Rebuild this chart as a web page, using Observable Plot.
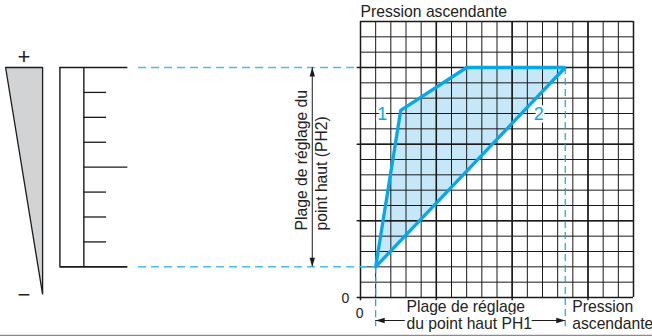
<!DOCTYPE html>
<html><head><meta charset="utf-8">
<script src="https://cdn.jsdelivr.net/npm/d3@7"></script>
<script src="https://cdn.jsdelivr.net/npm/@observablehq/plot@0.6"></script>
<style>
html,body{margin:0;padding:0;background:#fff;}
#chart svg{display:block;}
</style></head><body><div id="chart"></div>
<script>
// ---- Data (grid units: 1 = one grid cell) ----
const gridLines = [0,1,2,3,4,5,6,7,8,9,10,11,12,13,14,15,16,17,18];
const majorLines = [0, 5, 10, 15];
const zoneX = [1, 2.65, 7, 13.5, 1];
const zoneY = [2, 12.2, 15, 15, 2];
const curveLabels = ["1", "2"];
const curveLabelX = [1.43, 11.75];
const curveLabelY = [11.94, 11.94];
const ph1Range = [1, 13.5];      // x range of PH1
const ph2Range = [2, 15];        // y range of PH2
const ph1ArrowY = -1.5;
const ph2ArrowX = -3.18;
const dashStartX = -14.63;
const dashEndY = -1.9;
// left-hand wedge and scale
const wedgeX = [-23.4, -20.96, -20.96, -23.4];
const wedgeY = [15, 15, 0.2, 15];
const scaleBarX = [-19.82, -18.24];
const scaleTicks = [2, 3.625, 5.25, 6.875, 8.5, 10.125, 11.75, 13.375, 15];
const scaleEndTicks = [2, 15];
const scaleMidTick = [8.5];
const scaleLongEnd = -15.34;
const scaleShortEnd = -16.74;
// texts
const texts = [
  {x: 0, y: 18.6, t: "Pression ascendante"},
  {x: 3.03, y: -0.63, t: "Plage de réglage"},
  {x: 13.96, y: -0.64, t: "Pression"},
  {x: 13.96, y: -1.73, t: "ascendante"}
];
const haloTexts = [{x: 3.03, y: -1.70, t: "du point haut PH1"}];
const zeroLabels = [{x: -0.99, y: -0.05, t: "0"}, {x: -0.05, y: -1.06, t: "0"}];
const signLabels = [{x: -22.2, y: 15.7, t: "+"}, {x: -22.2, y: 0.15, t: "−"}];
const ph2Lines = [{x: -3.84, t: "Plage de réglage du"}, {x: -2.52, t: "point haut (PH2)"}];
const ph2TextY = 4.37;

const BLUE = "#05a9ea", FILL = "#c6e7f7", DASH = "#45bff0", INK = "#1a1a1a";
const FONT = 15.7;

const zone = zoneX.map((x, i) => ({x, y: zoneY[i]}));
const wedge = wedgeX.map((x, i) => ({x, y: wedgeY[i]}));
const arrowHead = {draw(ctx) { ctx.moveTo(0, 0); ctx.lineTo(-2.7, 9); ctx.lineTo(2.7, 9); ctx.closePath(); }};
const tips = [
  {x: ph2ArrowX, y: ph2Range[1], r: 0}, {x: ph2ArrowX, y: ph2Range[0], r: 180},
  {x: ph1Range[0], y: ph1ArrowY, r: 270}, {x: ph1Range[1], y: ph1ArrowY, r: 90}
];

const chart = Plot.plot({
  width: 652, height: 336,
  marginTop: 0, marginRight: 0, marginBottom: 0, marginLeft: 0,
  x: {domain: [0, 18], range: [360, 633], axis: null},
  y: {domain: [0, 18], range: [297, 21], axis: null},
  style: {fontFamily: "'Liberation Sans', Arial, Helvetica, sans-serif", background: "#fff", color: INK},
  marks: [
    Plot.ruleY([-2.48], {stroke: "#8a8a8a", strokeWidth: 1.5}),
    // zone fill
    Plot.line(zone, {x: "x", y: "y", fill: FILL, stroke: "none"}),
    // top dashed (under grid)
    Plot.ruleY([ph2Range[1]], {x1: dashStartX, x2: -0.2, stroke: DASH, strokeWidth: 1.5, strokeDasharray: "8,5"}),
    // grid
    Plot.ruleX(gridLines, {x: d => d, y1: 0, y2: 18, stroke: INK, strokeWidth: 1}),
    Plot.ruleY(gridLines, {y: d => d, x1: 0, x2: 18, stroke: INK, strokeWidth: 1}),
    Plot.ruleX(majorLines, {x: d => d, y1: -0.22, y2: 18, stroke: INK, strokeWidth: 1.5}),
    Plot.ruleY(majorLines, {y: d => d, x1: -0.22, x2: 18, stroke: INK, strokeWidth: 1.5}),
    Plot.ruleX([18], {y1: 0, y2: 18, stroke: INK, strokeWidth: 1.5}),
    Plot.ruleY([18], {x1: 0, x2: 18, stroke: INK, strokeWidth: 1.5}),
    // bottom dashed and vertical dashed
    Plot.ruleY([ph2Range[0]], {x1: dashStartX, x2: ph1Range[0], stroke: DASH, strokeWidth: 1.5, strokeDasharray: "8,5"}),
    Plot.ruleX([ph1Range[0]], {y1: ph2Range[0], y2: dashEndY, stroke: BLUE, strokeWidth: 1.2, strokeDasharray: "7,4"}),
    Plot.ruleX([ph1Range[1]], {y1: ph2Range[1], y2: dashEndY, stroke: BLUE, strokeWidth: 1.2, strokeDasharray: "7,4"}),
    // zone outline
    Plot.line(zone, {x: "x", y: "y", stroke: BLUE, strokeWidth: 3.3, strokeLinejoin: "miter"}),
    // curve labels
    Plot.text(curveLabels, {x: (d, i) => curveLabelX[i], y: (d, i) => curveLabelY[i], text: d => d,
      fill: BLUE, stroke: "white", strokeWidth: 5, paintOrder: "stroke", fontSize: 18, lineAnchor: "middle"}),
    // wedge
    Plot.line(wedge, {x: "x", y: "y", fill: "#d2d3d5", stroke: INK, strokeWidth: 1.3, strokeLinejoin: "miter"}),
    // scale bar
    Plot.ruleX(scaleBarX, {x: d => d, y1: ph2Range[0], y2: ph2Range[1], stroke: INK, strokeWidth: 1.4}),
    Plot.ruleY(scaleEndTicks, {y: d => d, x1: scaleBarX[0], x2: scaleLongEnd, stroke: INK, strokeWidth: 1.6}),
    Plot.ruleY(scaleMidTick, {y: d => d, x1: scaleBarX[1], x2: scaleLongEnd, stroke: INK, strokeWidth: 1.3}),
    Plot.ruleY(scaleTicks.filter(t => !scaleEndTicks.includes(t) && !scaleMidTick.includes(t)), {y: d => d, x1: scaleBarX[1], x2: scaleShortEnd, stroke: INK, strokeWidth: 1.3}),
    // arrows
    Plot.ruleX([ph2ArrowX], {y1: ph2Range[0], y2: ph2Range[1], stroke: INK, strokeWidth: 1}),
    Plot.ruleY([ph1ArrowY], {x1: ph1Range[0], x2: ph1Range[1], stroke: INK, strokeWidth: 1}),
    Plot.dot(tips, {x: "x", y: "y", rotate: "r", symbol: arrowHead, fill: INK, stroke: "none"}),
    // texts
    Plot.text(texts, {x: "x", y: "y", text: "t", textAnchor: "start", lineAnchor: "middle", fontSize: FONT, fill: "#222"}),
    Plot.text(haloTexts, {x: "x", y: "y", text: "t", textAnchor: "start", lineAnchor: "middle", fontSize: FONT, fill: "#222",
      stroke: "white", strokeWidth: 6, paintOrder: "stroke"}),
    Plot.text(zeroLabels, {x: "x", y: "y", text: "t", lineAnchor: "middle", fontSize: 14, fill: "#222"}),
    Plot.text(signLabels, {x: "x", y: "y", text: "t", lineAnchor: "middle", fontSize: 22, fill: "#222"}),
    Plot.text(ph2Lines, {x: "x", y: ph2TextY, text: "t", rotate: -90, textAnchor: "start", lineAnchor: "middle", fontSize: FONT, fill: "#222"})
  ]
});
document.getElementById("chart").appendChild(chart);
</script></body></html>
